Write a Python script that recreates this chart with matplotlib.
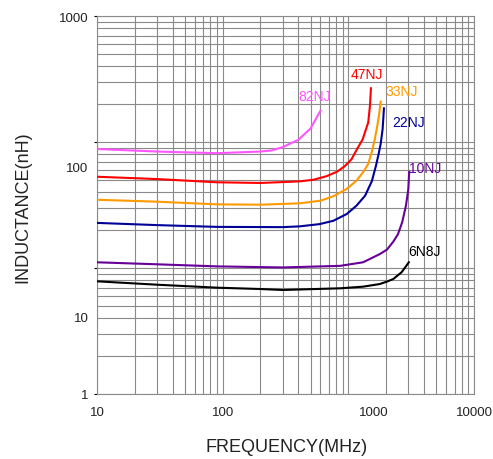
import matplotlib
matplotlib.use("Agg")
import matplotlib.pyplot as plt
import matplotlib.transforms as mtransforms
import numpy as np

plt.rcParams['font.family'] = ['Liberation Sans', 'DejaVu Sans']

# --- data (frequency in MHz, inductance in nH) ---
f_82 = [10, 30, 90, 200, 245, 300, 400, 500, 600]
L_82 = [88, 84, 81.5, 84, 85.7, 91, 104, 128, 177]

f_47 = [10, 30, 90, 200, 410, 530, 670, 810, 940, 1060, 1160, 1300, 1440, 1486, 1513]
L_47 = [53, 50.8, 47.9, 47.3, 48.7, 50.2, 53.5, 58, 64.5, 73, 86, 105, 143, 194, 267]

f_33 = [10, 30, 90, 200, 410, 600, 760, 970, 1160, 1310, 1440, 1540, 1620, 1690, 1750, 1810]
L_33 = [34.8, 33.6, 32.0, 31.8, 32.6, 34.2, 37.1, 42.4, 49.3, 57.5, 67, 84, 104, 130, 160, 209]

f_22 = [10, 30, 90, 300, 410, 590, 760, 970, 1160, 1360, 1540, 1660, 1740, 1810, 1875, 1920]
L_22 = [22.8, 21.9, 21.2, 21.1, 21.4, 22.3, 23.7, 26.8, 31.2, 37.5, 49, 65, 80, 97, 127, 185]

f_10 = [10, 30, 90, 300, 860, 1310, 1780, 2030, 2280, 2480, 2680, 2870, 3000, 3050]
L_10 = [11.1, 10.7, 10.3, 10.1, 10.4, 11.1, 12.9, 14.0, 16.2, 18.5, 23, 31, 42, 58]

f_6n8 = [10, 30, 90, 200, 300, 860, 1310, 1780, 2030, 2280, 2650, 2850, 3030]
L_6n8 = [7.84, 7.37, 6.98, 6.81, 6.69, 6.9, 7.11, 7.46, 7.8, 8.18, 9.24, 10.2, 11.1]

names = ['82NJ', '47NJ', '33NJ', '22NJ', '10NJ', '6N8J']
colors = ['#ff55ff', '#ff0000', '#ff9900', '#000099', '#660099', '#000000']
# label anchor points (MHz, nH)
label_f = [537, 1398, 2669, 3034, 4064, 4042]
label_L = [233, 347, 253, 143, 62.2, 13.7]

xticks = [10, 100, 1000, 10000]
yticks = [1, 10, 100, 1000]

fig = plt.figure(figsize=(4.93, 4.60), dpi=100)
ax = fig.add_axes([97/493, 65/460, 377/493, 378/460])

series = [(f_82, L_82), (f_47, L_47), (f_33, L_33),
          (f_22, L_22), (f_10, L_10), (f_6n8, L_6n8)]
for (f, L), c in zip(series, colors):
    ax.plot(f, L, color=c, lw=1.5, solid_joinstyle='round', zorder=3)

for n, c, x, y in zip(names, colors, label_f, label_L):
    ax.text(x, y, n, color=c, fontsize=10, ha='center', va='center')

ax.set_xscale('log')
ax.set_yscale('log')
ax.set_xlim(10, 10000)
ax.set_ylim(1, 1000)

ax.grid(True, which='both', color='#8a8a8a', lw=0.8)
ax.set_axisbelow(True)
for s in ax.spines.values():
    s.set_color('#8a8a8a')
    s.set_linewidth(0.8)

ax.set_xticks(xticks)
ax.set_xticklabels([str(t) for t in xticks])
ax.set_yticks(yticks)
ax.set_yticklabels([str(t) for t in yticks])
ax.tick_params(axis='x', which='major', length=0, pad=9, labelsize=9.5, colors='#222222')
ax.tick_params(axis='y', which='major', length=2.5, width=0.8, pad=3.5, labelsize=9.5,
               color='black', labelcolor='#222222')
ax.tick_params(which='minor', length=0)

# the original sheet prints some decade labels off their grid lines
dpi_tr = fig.dpi_scale_trans
ylabs = ax.get_yticklabels()
ylabs[1].set_transform(ylabs[1].get_transform() + mtransforms.ScaledTranslation(0, -0.48, dpi_tr))
ylabs[2].set_transform(ylabs[2].get_transform() + mtransforms.ScaledTranslation(0, -0.24, dpi_tr))
xlabs = ax.get_xticklabels()
xlabs[2].set_transform(xlabs[2].get_transform() + mtransforms.ScaledTranslation(0.25, 0, dpi_tr))

ax.set_xlabel('FREQUENCY(MHz)', fontsize=13, color='#222222', va='center')
ax.xaxis.set_label_coords(0.504, -0.14)
ax.set_ylabel('INDUCTANCE(nH)', fontsize=13, color='#222222', va='center')
ax.yaxis.set_label_coords(-0.1976, 0.496)

fig.savefig('out.png', dpi=100)
